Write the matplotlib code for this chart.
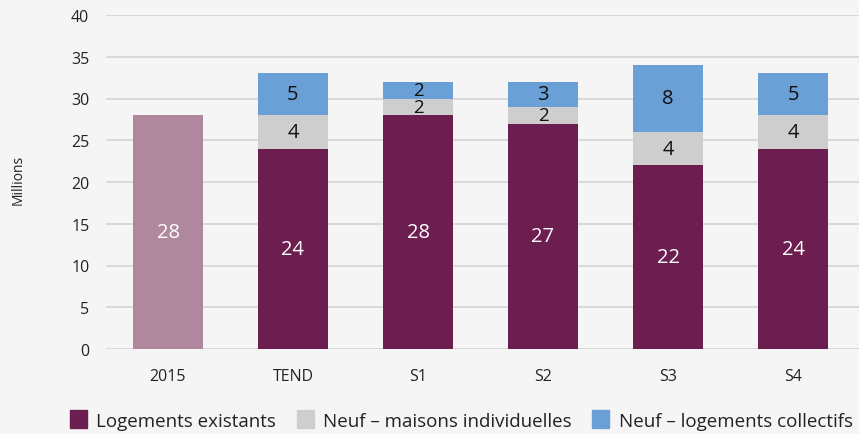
import matplotlib
matplotlib.use("Agg")
import matplotlib.pyplot as plt
from matplotlib.patches import Patch

plt.rcParams['font.family'] = ['Open Sans', 'DejaVu Sans']

categories = ["2015", "TEND", "S1", "S2", "S3", "S4"]
existants = [28, 24, 28, 27, 22, 24]
maisons = [0, 4, 2, 2, 4, 4]
collectifs = [0, 5, 2, 3, 8, 5]

c_exist = "#6b1e4f"
c_2015 = "#b0889e"
c_mais = "#cecece"
c_coll = "#6aa0d6"
bg = "#f5f5f5"

fig = plt.figure(figsize=(8.59, 4.35), dpi=100, facecolor=bg)
ax = fig.add_axes([106/859, 1-350/435, 1-106/859, (350-16)/435], facecolor=bg)

x = list(range(len(categories)))
w = 0.56
ex_colors = [c_2015] + [c_exist]*(len(categories)-1)
ax.bar(x, existants, w, color=ex_colors, zorder=3)
ax.bar(x, maisons, w, bottom=existants, color=c_mais, zorder=3)
bottom3 = [a+b for a, b in zip(existants, maisons)]
ax.bar(x, collectifs, w, bottom=bottom3, color=c_coll, zorder=3)

for i in x:
    ax.text(i, existants[i]/2, str(existants[i]), ha='center', va='center',
            color='white', fontsize=14.5, zorder=4)
    if maisons[i]:
        ax.text(i, existants[i]+maisons[i]/2, str(maisons[i]), ha='center', va='center',
                color='#111111', fontsize=14.5 if maisons[i] > 2 else 13.5, zorder=4)
    if collectifs[i]:
        ax.text(i, bottom3[i]+collectifs[i]/2, str(collectifs[i]), ha='center', va='center',
                color='#111111', fontsize=14.5 if collectifs[i] > 2 else 13.5, zorder=4)

ax.set_ylim(0, 40)
ax.set_xlim(-0.496, 5.528)
ax.set_yticks(range(0, 41, 5))
ax.yaxis.grid(True, color='#d6d6d6', linewidth=1.3, zorder=0)
ax.set_axisbelow(True)
for s in ax.spines.values():
    s.set_visible(False)
ax.tick_params(axis='both', length=0, labelsize=11.5, colors='#222222')
ax.tick_params(axis='y', pad=12)
ax.tick_params(axis='x', pad=14)
ax.set_xticks(x)
ax.set_xticklabels(categories)
fig.text(18/859, 1-180/435, "Millions", rotation=90, ha='center', va='center',
         fontsize=10, color='#222222')

handles = [Patch(color=c_exist), Patch(color=c_mais), Patch(color=c_coll)]
labels = ["Logements existants", "Neuf – maisons individuelles", "Neuf – logements collectifs"]
fig.legend(handles, labels, loc='center', bbox_to_anchor=(0.537, 1-421/435), ncol=3,
           frameon=False, fontsize=13.5, handlelength=0.9, handleheight=1.1,
           handletextpad=0.5, columnspacing=1.1, labelcolor='#222222')

fig.savefig("out.png", dpi=100, facecolor=bg)
